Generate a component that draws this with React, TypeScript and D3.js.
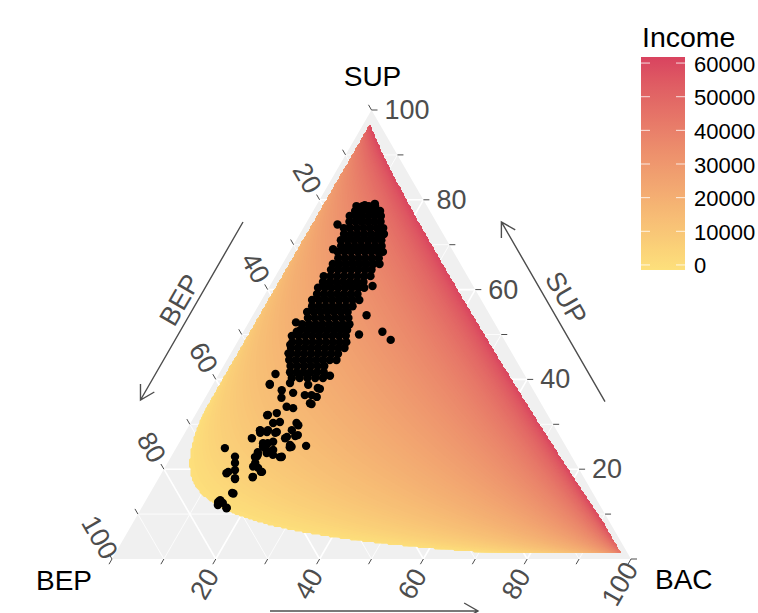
import React, { useMemo } from "react";
import * as d3 from "d3";

const WIDTH = 758;
const HEIGHT = 613;
const FONT = "'Liberation Sans', Arial, Helvetica, sans-serif";

// ---------- data ----------
const axisTitles = { top: "SUP", left: "BEP", right: "BAC" };
const gridValues = [10, 20, 30, 40, 50, 60, 70, 80, 90];
const tickValues = [0, 10, 20, 30, 40, 50, 60, 70, 80, 90, 100];
const labelValues = [20, 40, 60, 80, 100];
const incomeBreaks = [0, 10000, 20000, 30000, 40000, 50000, 60000];
const incomeLimits: [number, number] = [-1500, 61800];
const incomeColours = ["#FDE07B", "#D9435F"];
// fitted income surface: income = b0 + b1*ln(SUP/BEP) + b2*ln(BAC/BEP)
const surfaceCoefficients = [23500, 9560, 4510];
// smallest share (fraction) for which the surface was evaluated
const surfaceMinShare = 0.012;

// individual households: [SUP %, BAC %] (BEP = 100 - SUP - BAC)
const scatteredHouseholds: [number, number][] = [
  [79.1, 11.1], [78.8, 9.3], [74.5, 6.2], [69.0, 8.1], [72.8, 15.7], [60.8, 19.8], [54.3, 21.9],
  [50.0, 22.6], [50.6, 26.8], [48.8, 29.3], [52.7, 9.1], [50.6, 10.3], [47.7, 10.5], [45.8, 11.1],
  [40.8, 21.6], [41.2, 10.9], [39.0, 10.9], [37.9, 21.1], [36.5, 20.2], [34.5, 21.2], [29.8, 21.0],
  [27.4, 21.6], [25.0, 22.1], [25.2, 24.8], [22.8, 21.3], [32.0, 13.9], [28.6, 14.2], [26.9, 13.5],
  [25.0, 16.6], [22.8, 16.5], [20.6, 16.9], [19.4, 19.0], [18.2, 18.0], [24.7, 9.4], [22.8, 12.3],
  [19.1, 12.5], [17.8, 14.8], [14.6, 16.1], [12.8, 14.4], [11.3, 16.4], [12.0, 14.4],
  [28.1, 14.5], [28.3, 15.7], [28.1, 17.4], [27.2, 20.1], [24.9, 21.8], [25.8, 16.2], [25.8, 17.1],
  [23.2, 16.5], [24.3, 17.6], [23.2, 19.4], [22.7, 21.3], [21.4, 13.0], [19.4, 12.7], [19.8, 13.8],
  [18.0, 14.7], [21.4, 16.9], [20.3, 18.0], [18.3, 18.0], [19.4, 19.2], [14.7, 15.8], [13.1, 14.3],
  [12.5, 15.1], [11.4, 16.4], [12.7, 14.1],
  [38.8, 11.0], [37.6, 13.9], [39.2, 14.7], [37.0, 16.4], [38.8, 18.4], [38.1, 20.6], [36.5, 18.9],
  [34.7, 20.8], [36.1, 21.4], [35.9, 14.7], [33.9, 16.7], [32.1, 14.0], [32.5, 15.5], [33.6, 18.1],
  [30.3, 15.9], [30.5, 17.1], [28.7, 15.7], [28.7, 14.2], [28.3, 17.6], [28.7, 20.3], [30.3, 20.4],
  [27.6, 22.0], [26.9, 19.9], [26.1, 18.0], [25.4, 21.6], [23.8, 16.2], [23.6, 18.0], [24.3, 18.9],
  [22.7, 16.2], [22.7, 21.0],
];

// dense core of households: [SUP %, list of BAC %]
const coreHouseholds: [number, number[]][] = [
  [78.6, [7.8, 9.0, 10.2, 11.4]],
  [77.5, [8.1, 9.4, 10.7, 12.0, 12.9]],
  [76.4, [7.6, 8.8, 10.0, 11.2, 12.4, 13.6]],
  [75.1, [8.2, 9.4, 10.6, 11.8, 13.0, 14.2]],
  [73.7, [7.8, 9.0, 10.3, 11.6, 12.9, 14.2, 15.4]],
  [72.4, [8.5, 9.8, 11.1, 12.4, 13.7, 15.0, 16.2]],
  [71.0, [8.6, 9.9, 11.2, 12.5, 13.8, 15.1, 16.4]],
  [69.7, [9.3, 10.6, 11.9, 13.2, 14.5, 15.8, 17.1]],
  [68.4, [9.3, 10.6, 11.9, 13.2, 14.5, 15.8, 17.1, 18.0]],
  [67.0, [10.1, 11.4, 12.7, 14.0, 15.3, 16.6, 17.9]],
  [65.7, [9.7, 11.0, 12.3, 13.6, 14.9, 16.2, 17.5, 18.7]],
  [64.4, [10.0, 11.3, 12.6, 13.9, 15.2, 16.5, 17.8]],
  [63.0, [9.3, 10.6, 11.9, 13.2, 14.5, 15.8, 17.1, 18.3]],
  [61.7, [9.8, 11.1, 12.4, 13.7, 15.0, 16.3, 17.6]],
  [60.4, [9.5, 10.8, 12.1, 13.4, 14.7, 16.0, 17.3, 18.4]],
  [59.0, [10.0, 11.3, 12.6, 13.9, 15.2, 16.5, 17.8]],
  [57.7, [9.7, 11.0, 12.3, 13.6, 14.9, 16.2, 17.5, 18.8]],
  [56.3, [10.4, 11.7, 13.0, 14.3, 15.6, 16.9, 18.2]],
  [55.0, [10.1, 11.4, 12.7, 14.0, 15.3, 16.6, 17.9]],
  [53.7, [10.9, 12.2, 13.5, 14.8, 16.1, 17.4, 18.7]],
  [52.3, [10.5, 11.8, 13.1, 14.4, 15.7, 17.0, 18.3, 19.6]],
  [51.0, [10.8, 12.1, 13.4, 14.7, 16.0, 17.3, 18.6, 19.8]],
  [49.7, [9.8, 11.1, 12.4, 13.7, 15.0, 16.3, 17.6, 18.9, 20.2]],
  [48.3, [10.6, 11.9, 13.2, 14.5, 15.8, 17.1, 18.4, 19.7, 21.0]],
  [47.0, [11.0, 12.3, 13.6, 14.9, 16.2, 17.5, 18.8, 20.1, 21.3]],
  [45.7, [11.6, 12.9, 14.2, 15.5, 16.8, 18.1, 19.4, 20.7]],
  [44.3, [12.0, 13.3, 14.6, 15.9, 17.2, 18.5, 19.8, 21.1]],
  [43.0, [12.9, 14.2, 15.5, 16.8, 18.1, 19.4]],
  [41.6, [13.5, 14.8, 16.1, 17.4, 18.7, 20.0]],
  [40.3, [14.5, 16.0, 17.5, 19.0, 20.5]],
];

// ---------- geometry ----------
const TOP = { x: 371.5, y: 110 };
const BL = { x: 112, y: 559 };
const BR = { x: 631, y: 559 };

const supScale = d3.scaleLinear().domain([0, 100]).range([BL.y, TOP.y]);
const bacScale = d3.scaleLinear().domain([0, 100]).range([BL.x, BR.x]);
const supShift = d3.scaleLinear().domain([0, 100]).range([0, TOP.x - BL.x]);

function project(sup: number, bac: number): [number, number] {
  return [bacScale(bac) + supShift(sup), supScale(sup)];
}

function arrow(x1: number, y1: number, x2: number, y2: number) {
  const dx = x2 - x1, dy = y2 - y1;
  const len = Math.hypot(dx, dy);
  const ux = -dx / len, uy = -dy / len;
  const L = 16, ang = (30 * Math.PI) / 180;
  const r = (a: number) => [
    x2 + L * (ux * Math.cos(a) - uy * Math.sin(a)),
    y2 + L * (ux * Math.sin(a) + uy * Math.cos(a)),
  ];
  const p1 = r(ang), p2 = r(-ang);
  return `M${x1},${y1}L${x2},${y2}M${p1[0]},${p1[1]}L${x2},${y2}L${p2[0]},${p2[1]}`;
}

export default function App() {
  const [lo, hi] = incomeLimits;
  const colour = useMemo(
    () => d3.scaleSequential(d3.interpolateLab(incomeColours[0], incomeColours[1])).domain([lo, hi]),
    []
  );

  const layers = useMemo(() => {
    const [b0, b1, b2] = surfaceCoefficients;
    const m = surfaceMinShare;
    const res = 1.5;
    const gx0 = 108, gy0 = 104;
    const nx = Math.ceil((636 - gx0) / res) + 1;
    const ny = Math.ceil((563 - gy0) / res) + 1;
    const OUT = -1e9;
    const vals: number[] = new Array(nx * ny);
    for (let j = 0; j < ny; j++) {
      for (let i = 0; i < nx; i++) {
        const x = gx0 + i * res, y = gy0 + j * res;
        const s = supScale.invert(y) / 100;
        const a = bacScale.invert(x - supShift(s * 100)) / 100;
        const e = 1 - s - a;
        let v = OUT;
        if (s > m && a > m && e > m) {
          const p = b0 + b1 * Math.log(s / e) + b2 * Math.log(a / e);
          if (p >= lo && p <= hi) v = p;
        }
        vals[j * nx + i] = v;
      }
    }
    const N = 100;
    const step = (hi - lo) / N;
    const thr = d3.range(N).map((k) => lo + k * step);
    const cs = d3.contours().size([nx, ny]).thresholds(thr)(vals);
    const gp = d3.geoPath(d3.geoIdentity().scale(res).translate([gx0 - res / 2, gy0 - res / 2]) as any);
    return cs.map((c) => ({ d: gp(c as any) || "", fill: colour(c.value + step / 2) }));
  }, []);

  const households = useMemo(() => {
    const pts: [number, number][] = [...scatteredHouseholds];
    coreHouseholds.forEach(([s, list]) => list.forEach((b) => pts.push([s, b])));
    return pts;
  }, []);

  const tri = `M${TOP.x},${TOP.y}L${BR.x},${BR.y}L${BL.x},${BL.y}Z`;

  const gridLines: { d: string; major: boolean }[] = [];
  gridValues.forEach((v) => {
    const major = v % 20 === 0;
    let p1 = project(v, 0), p2 = project(v, 100 - v);
    gridLines.push({ d: `M${p1}L${p2}`, major });
    p1 = project(0, v); p2 = project(100 - v, v);
    gridLines.push({ d: `M${p1}L${p2}`, major });
    p1 = project(0, 100 - v); p2 = project(100 - v, 0);
    gridLines.push({ d: `M${p1}L${p2}`, major });
  });

  const tickLen = 6;
  const ticks: string[] = [];
  tickValues.forEach((v) => {
    const r = project(v, 100 - v);
    ticks.push(`M${r[0]},${r[1]}l${tickLen},0`);
    const l = project(100 - v, 0);
    ticks.push(`M${l[0]},${l[1]}l${-tickLen * 0.5},${-tickLen * 0.866}`);
    const b = project(0, v);
    ticks.push(`M${b[0]},${b[1]}l${-tickLen * 0.5},${tickLen * 0.866}`);
  });

  const legendY = d3.scaleLinear().domain([lo, hi]).range([270, 57]);
  const gradStops = d3.range(0, 21).map((k) => k / 20);

  const labelStyle = { fontFamily: FONT, fontSize: 27, fill: "#4D4D4D" } as const;

  return (
    <svg
      width={WIDTH}
      height={HEIGHT}
      style={{ position: "absolute", left: 0, top: 0, background: "#ffffff" }}
    >
      <defs>
        <clipPath id="triClip">
          <path d={tri} />
        </clipPath>
        <linearGradient id="incomeGrad" x1="0" y1="1" x2="0" y2="0">
          {gradStops.map((t) => (
            <stop key={t} offset={t} stopColor={colour(lo + t * (hi - lo))} />
          ))}
        </linearGradient>
      </defs>

      <path d={tri} fill="#F0F0F0" />
      {gridLines.map((g, i) => (
        <path key={i} d={g.d} stroke="#ffffff" strokeWidth={g.major ? 1.6 : 0.8} fill="none" />
      ))}

      <g clipPath="url(#triClip)">
        {layers.map((l, i) => (
          <path key={i} d={l.d} fill={l.fill} />
        ))}
      </g>

      <path d={ticks.join("")} stroke="#4D4D4D" strokeWidth={1} fill="none" />

      <g>
        {households.map(([s, b], i) => {
          const [x, y] = project(s, b);
          return <circle key={i} cx={x} cy={y} r={4.2} fill="#000000" />;
        })}
      </g>

      {labelValues.map((v) => {
        const [x, y] = project(v, 100 - v);
        return (
          <text key={"r" + v} x={x + 13} y={y} dominantBaseline="central" textAnchor="start" {...labelStyle}>
            {v}
          </text>
        );
      })}
      {labelValues.map((v) => {
        const [x0, y0] = project(100 - v, 0);
        const x = x0 - 12.5, y = y0 - 21.6;
        return (
          <text
            key={"l" + v}
            transform={`translate(${x},${y}) rotate(60)`}
            dominantBaseline="central"
            textAnchor="middle"
            {...labelStyle}
          >
            {v}
          </text>
        );
      })}
      {labelValues.map((v) => {
        const [x0, y0] = project(0, v);
        const x = x0 - 11, y = y0 + 25;
        return (
          <text
            key={"b" + v}
            transform={`translate(${x},${y}) rotate(-60)`}
            dominantBaseline="central"
            textAnchor="middle"
            {...labelStyle}
          >
            {v}
          </text>
        );
      })}

      <path d={arrow(605, 401.7, 501.4, 221.9)} stroke="#4D4D4D" strokeWidth={1.4} fill="none" />
      <path d={arrow(243, 222, 140.5, 400)} stroke="#4D4D4D" strokeWidth={1.4} fill="none" />
      <path d={arrow(270, 611, 478, 611)} stroke="#4D4D4D" strokeWidth={1.4} fill="none" />
      <text transform="translate(566,298) rotate(60)" dominantBaseline="central" textAnchor="middle" {...labelStyle}>
        {axisTitles.top}
      </text>
      <text transform="translate(180,300) rotate(-60)" dominantBaseline="central" textAnchor="middle" {...labelStyle}>
        {axisTitles.left}
      </text>

      <text x={372.5} y={86} textAnchor="middle" fontFamily={FONT} fontSize={28} fill="#000">
        {axisTitles.top}
      </text>
      <text x={92} y={590} textAnchor="end" fontFamily={FONT} fontSize={28} fill="#000">
        {axisTitles.left}
      </text>
      <text x={655} y={589} textAnchor="start" fontFamily={FONT} fontSize={28} fill="#000">
        {axisTitles.right}
      </text>

      <text x={642} y={46.5} fontFamily={FONT} fontSize={28.5} fill="#000">
        Income
      </text>
      <rect x={641} y={57} width={44} height={213} fill="url(#incomeGrad)" />
      {incomeBreaks.map((b) => {
        const y = legendY(b);
        return (
          <g key={b}>
            <line x1={641} x2={650} y1={y} y2={y} stroke="#ffffff" strokeOpacity={0.8} strokeWidth={1} />
            <line x1={676} x2={685} y1={y} y2={y} stroke="#ffffff" strokeOpacity={0.8} strokeWidth={1} />
            <text x={694} y={y + 1} dominantBaseline="central" fontFamily={FONT} fontSize={22} fill="#000">
              {b}
            </text>
          </g>
        );
      })}
    </svg>
  );
}
